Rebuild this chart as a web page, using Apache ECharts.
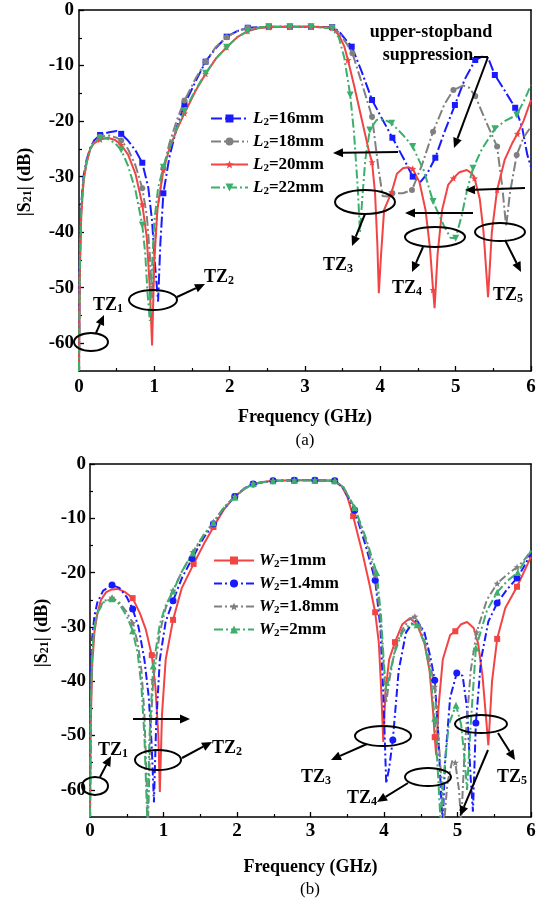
<!DOCTYPE html>
<html><head><meta charset="utf-8">
<script src="https://cdn.jsdelivr.net/npm/echarts@6/dist/echarts.min.js"></script>
<style>html,body{margin:0;padding:0;background:#fff}#c{width:546px;height:903px}</style>
</head><body><div id="c"></div>
<script>
const FONT = '"Liberation Serif","Times New Roman",serif';
const yTicks = [0,-10,-20,-30,-40,-50,-60];
const yMinorTicks = [-5,-15,-25,-35,-45,-55];
const namesA = ['L2=16mm','L2=18mm','L2=20mm','L2=22mm'];
const namesB = ['W2=1mm','W2=1.4mm','W2=1.8mm','W2=2mm'];

// ---- (a) curves and marker points ----
const L16 = [[0,-65],[0.01,-45],[0.03,-35],[0.06,-30],[0.1,-27],[0.15,-24.8],[0.2,-23.5],[0.4,-22],[0.5,-21.8],[0.65,-23.5],[0.75,-25.3],[0.92,-32],[0.97,-38],[1.01,-46],[1.05,-52.5],[1.08,-42],[1.2,-26.5],[1.3,-21],[1.55,-12.8],[1.82,-6.8],[2.1,-3.8],[3.45,-3.8],[3.55,-5.5],[3.75,-11],[4.0,-19],[4.3,-26.5],[4.53,-31],[4.62,-29.5],[4.85,-22],[5.12,-12.5],[5.35,-8.4],[5.43,-8.6],[5.65,-14.5],[5.88,-21],[5.95,-26],[6,-28.3]];
const L16m = [[0.28,-22.5],[0.56,-22.3],[0.84,-27.5],[1.12,-33],[1.4,-17],[1.68,-9.3],[1.96,-4.8],[2.24,-3.2],[2.52,-3],[2.8,-3],[3.08,-3],[3.36,-3.1],[3.62,-6.6],[3.89,-16.2],[4.16,-23],[4.43,-30],[4.73,-26.6],[4.99,-17.1],[5.26,-9],[5.52,-11.7],[5.79,-17.6]];
const L18 = [[0,-65],[0.01,-46],[0.03,-36],[0.06,-30.5],[0.1,-27.5],[0.15,-25],[0.2,-23.8],[0.4,-22.6],[0.5,-23],[0.65,-25],[0.75,-28],[0.9,-37],[0.94,-44],[0.97,-52],[1.0,-44],[1.04,-36],[1.2,-24],[1.3,-19.8],[1.55,-12.3],[1.82,-6.6],[2.1,-3.8],[3.45,-4],[3.55,-6],[3.75,-13],[3.97,-28],[4.03,-33.5],[4.1,-33.6],[4.3,-33],[4.55,-28],[4.85,-17],[5.1,-13.6],[5.18,-14],[5.4,-20],[5.62,-32],[5.67,-39],[5.72,-33],[5.9,-23],[6,-21]];
const L18m = [[0.28,-22.8],[0.56,-23.5],[0.84,-32.1],[1.12,-28.5],[1.4,-16.3],[1.68,-9.3],[1.96,-4.9],[2.24,-3.2],[2.52,-3],[2.8,-3],[3.08,-3],[3.36,-3.1],[3.63,-7.8],[3.89,-19.2],[4.16,-33],[4.42,-32.4],[4.7,-21.9],[4.97,-14.4],[5.26,-15.5],[5.55,-24.6],[5.81,-26.1]];
const L20 = [[0,-65],[0.01,-48],[0.03,-37],[0.06,-31],[0.1,-27.5],[0.15,-25],[0.2,-24],[0.38,-23],[0.48,-23.4],[0.65,-26],[0.75,-29.5],[0.9,-41],[0.94,-50],[0.97,-60.4],[1.0,-45],[1.04,-36],[1.2,-25],[1.3,-21.5],[1.55,-14.5],[1.82,-8.7],[2.1,-4.9],[2.38,-3.3],[3.45,-4.5],[3.52,-6.5],[3.65,-13.5],[3.75,-19.5],[3.85,-25.5],[3.93,-33],[3.96,-42],[3.98,-51],[4.01,-44],[4.05,-36],[4.22,-29.5],[4.3,-28.5],[4.37,-28.3],[4.52,-31],[4.6,-36],[4.66,-43],[4.72,-53.7],[4.76,-44],[4.82,-36],[4.9,-31.5],[5.05,-29.2],[5.15,-28.8],[5.22,-29.5],[5.32,-34],[5.37,-40],[5.43,-51.7],[5.48,-40],[5.65,-27],[5.75,-24],[5.9,-20],[6,-16.2]];
const L20m = [[0.28,-23.3],[0.56,-24.3],[0.84,-35],[1.12,-28.8],[1.4,-18.6],[1.68,-11.5],[1.96,-6.7],[2.24,-3.8],[2.52,-3.1],[2.8,-3],[3.08,-3],[3.36,-3.2],[3.57,-9],[3.89,-27.4],[4.15,-32.8],[4.43,-28.6],[4.7,-50.4],[4.97,-30.3],[5.25,-30.3],[5.55,-32.4],[5.82,-22.3]];
const L22 = [[0,-65],[0.01,-47],[0.03,-36],[0.06,-30.5],[0.1,-27.5],[0.15,-25],[0.2,-23.8],[0.38,-23.2],[0.48,-24],[0.65,-28],[0.75,-32.5],[0.88,-44],[0.91,-51],[0.94,-56],[0.97,-46],[1.0,-38],[1.05,-32],[1.2,-24.8],[1.3,-21.2],[1.55,-14.3],[1.82,-8.7],[2.1,-4.9],[2.38,-3.2],[3.45,-5],[3.52,-8.5],[3.65,-22],[3.7,-32],[3.73,-40],[3.76,-34],[3.8,-27],[3.95,-19.8],[4.05,-19.7],[4.3,-22.5],[4.58,-29],[4.85,-39],[4.93,-41],[5.08,-37],[5.15,-32.5],[5.35,-25],[5.65,-20],[5.92,-16],[6,-13.5]];
const L22m = [[0.28,-23.1],[0.56,-25.2],[0.84,-38.7],[1.12,-28.3],[1.4,-18.2],[1.68,-11.4],[1.96,-6.7],[2.24,-3.8],[2.52,-3],[2.8,-3],[3.08,-3],[3.36,-3.3],[3.6,-15.3],[3.86,-21.6],[4.15,-20.4],[4.43,-24.6],[4.7,-34.5],[5.0,-41.1],[5.23,-28.5],[5.52,-21.4],[5.81,-18.9]];

// ---- (b) curves and marker points ----
const W10 = [[0,-65],[0.01,-48],[0.03,-37],[0.06,-31],[0.1,-27.5],[0.15,-25],[0.22,-23.6],[0.3,-23.1],[0.38,-23],[0.48,-23.6],[0.68,-27.5],[0.76,-30.5],[0.89,-41],[0.93,-50],[0.95,-60.4],[0.98,-46],[1.03,-36],[1.25,-22.8],[1.55,-14.7],[1.82,-8.4],[2.1,-4.6],[2.35,-3.3],[3.42,-4],[3.5,-6],[3.7,-16],[3.8,-22],[3.93,-33],[3.96,-41],[3.99,-51.2],[4.02,-42],[4.07,-36],[4.25,-29.5],[4.35,-28.4],[4.45,-29.5],[4.55,-33],[4.62,-38],[4.67,-46],[4.71,-53.6],[4.74,-45],[4.8,-36],[4.9,-31.5],[5.05,-29.5],[5.13,-29.1],[5.22,-30.2],[5.28,-33],[5.34,-39],[5.42,-51.8],[5.47,-40],[5.65,-26.5],[5.9,-20],[6,-17.1]];
const W10m = [[0.58,-24.7],[0.84,-35.2],[1.13,-28.7],[1.41,-18.4],[1.68,-11.6],[1.97,-6],[2.22,-3.7],[2.49,-3.1],[2.78,-3],[3.06,-3],[3.33,-3.1],[3.58,-9.6],[3.88,-27.3],[4.15,-32.8],[4.69,-50.3],[4.97,-30.8],[5.54,-32.2],[5.81,-22.6]];
const W14 = [[0,-65],[0.01,-40],[0.03,-32],[0.06,-28],[0.1,-25.5],[0.18,-23.3],[0.4,-22.8],[0.5,-24.5],[0.66,-30],[0.74,-36],[0.8,-43],[0.84,-52],[0.87,-62.3],[0.9,-48],[0.95,-36],[1.03,-29],[1.25,-21],[1.55,-13.5],[1.82,-8.2],[2.1,-4.5],[3.45,-4.5],[3.75,-15],[3.95,-30],[3.99,-42],[4.03,-58.8],[4.07,-56],[4.2,-38],[4.3,-31],[4.4,-29],[4.45,-28.8],[4.55,-31],[4.63,-35.5],[4.74,-50],[4.78,-62],[4.8,-66],[4.83,-55],[4.9,-43],[5.07,-39],[5.13,-45],[5.18,-58],[5.21,-64],[5.32,-36],[5.42,-29],[5.68,-23],[5.9,-19],[6,-16.4]];
const W14m = [[0.3,-22.3],[0.58,-26.7],[1.13,-25.2],[1.39,-17.4],[1.68,-11],[1.97,-6],[2.22,-3.7],[2.49,-3.1],[2.78,-3],[3.06,-3],[3.33,-3.1],[3.6,-8.5],[3.88,-21.4],[4.12,-50.8],[4.69,-39.8],[4.99,-38.5],[5.25,-47.7],[5.54,-25.6],[5.81,-21]];
const W18 = [[0,-65],[0.01,-45],[0.03,-35],[0.06,-30],[0.1,-27.5],[0.18,-25.3],[0.4,-25.5],[0.5,-27.3],[0.65,-33],[0.7,-38],[0.74,-46],[0.77,-58],[0.79,-66],[0.82,-50],[0.95,-31],[1.03,-26.5],[1.25,-19.8],[1.55,-13],[1.82,-8],[2.1,-4.5],[3.45,-4.3],[3.75,-14],[3.95,-28],[4.0,-38],[4.03,-44],[4.07,-40],[4.15,-34],[4.25,-30.5],[4.35,-28.5],[4.5,-30],[4.6,-35],[4.75,-52],[4.8,-62],[4.82,-66],[4.86,-59],[4.93,-54.5],[5.02,-60],[5.05,-66],[5.1,-52],[5.18,-38],[5.4,-25],[5.68,-20.3],[5.9,-17.8],[6,-16]];
const W18m = [[0.3,-24.6],[0.58,-29.3],[0.86,-39.8],[1.13,-23.3],[1.4,-16.2],[1.68,-10.7],[1.97,-6],[2.22,-3.6],[2.49,-3.1],[2.78,-3],[3.06,-3],[3.33,-3.1],[3.6,-8.2],[3.88,-20.5],[4.42,-28.1],[4.69,-41],[4.97,-55],[5.26,-31],[5.54,-22],[5.81,-19]];
const W20 = [[0,-65],[0.01,-45],[0.03,-35],[0.06,-30],[0.1,-27.5],[0.18,-25.5],[0.4,-25.8],[0.5,-28],[0.65,-35],[0.7,-41],[0.74,-50],[0.77,-62],[0.78,-66],[0.81,-50],[0.95,-29.5],[1.03,-26],[1.25,-19.8],[1.55,-13],[1.82,-8.1],[2.1,-4.6],[3.45,-4.3],[3.75,-13.5],[3.96,-28],[4.0,-37],[4.03,-42],[4.07,-39],[4.15,-34.5],[4.25,-31],[4.35,-29.5],[4.55,-33],[4.63,-38.5],[4.73,-56],[4.77,-66],[4.81,-58],[4.88,-48],[5.05,-48],[5.1,-55],[5.13,-60],[5.17,-50],[5.4,-27],[5.68,-21.5],[5.9,-18.2],[6,-16]];
const W20m = [[0.3,-24.8],[0.58,-30.7],[0.86,-37.2],[1.13,-23.4],[1.4,-16.4],[1.68,-10.8],[1.97,-6.1],[2.22,-3.6],[2.49,-3.1],[2.78,-3],[3.06,-3],[3.33,-3.1],[3.6,-8],[3.9,-20],[4.45,-29.6],[4.69,-46.8],[4.98,-44.4],[5.25,-33.9],[5.54,-23.6],[5.82,-20]];

const BLUE='#1a1aff', GRAY='#808080', RED='#f24444', GREEN='#3caf6c';
const STAR='path://M0,-10L2.6,-3.6L9.5,-3.1L4.2,1.4L5.9,8.1L0,4.4L-5.9,8.1L-4.2,1.4L-9.5,-3.1L-2.6,-3.6Z';

function merge(curve, marks){
  const pts = curve.map(p=>({value:p, symbol:'none'})).concat(marks.map(p=>({value:p})));
  pts.sort((a,b)=>a.value[0]-b.value[0]);
  return pts;
}
function mk(name, curve, marks, color, dash, symbol, size, g, rot){
  return {name, type:'line', xAxisIndex:g*2, yAxisIndex:g*3, data:merge(curve,marks),
    symbol, symbolSize:size, symbolRotate:rot||0, showAllSymbol:true, clip:true,
    lineStyle:{color, width:2, type:dash}, itemStyle:{color}, color};
}
const DD=[9,3,2,3];
const series = [
  mk(namesA[0], L16, L16m, BLUE, [11,3,2,3], 'rect', 6, 0),
  mk(namesA[1], L18, L18m, GRAY, [10,3,2,3], 'circle', 6, 0),
  mk(namesA[2], L20, L20m, RED, 'solid', STAR, 7, 0),
  mk(namesA[3], L22, L22m, GREEN, DD, 'triangle', 7, 0, 180),
  mk(namesB[0], W10, W10m, RED, 'solid', 'rect', 6, 1),
  mk(namesB[1], W14, W14m, BLUE, [8,3,2,3], 'circle', 7, 1),
  mk(namesB[2], W18, W18m, GRAY, [8,3,2,3], STAR, 7, 1),
  mk(namesB[3], W20, W20m, GREEN, DD, 'triangle', 7, 1)
];

const axisLineStyle = {color:'#000', width:1.5};
const labelStyle = {color:'#000', fontFamily:FONT, fontWeight:'bold', fontSize:19};
function xMain(g, margin, gap){
  return {type:'value', gridIndex:g, min:0, max:6, interval:1, position:'bottom',
    axisLine:{show:true, onZero:false, lineStyle:axisLineStyle},
    axisTick:{show:true, inside:true, length:5, lineStyle:{color:'#000', width:1.3}},
    minorTick:{show:true, splitNumber:2, length:3, lineStyle:{color:'#000', width:1.2}},
    splitLine:{show:false}, axisLabel:Object.assign({margin}, labelStyle),
    name:'Frequency (GHz)', nameLocation:'middle', nameGap:gap,
    nameTextStyle:{color:'#000', fontFamily:FONT, fontWeight:'bold', fontSize:18}};
}
function xTop(g){
  return {type:'value', gridIndex:g, min:0, max:6, position:'top',
    axisLine:{show:true, onZero:false, lineStyle:axisLineStyle},
    axisTick:{show:false}, axisLabel:{show:false}, splitLine:{show:false}};
}
function yMain(g, margin){
  return {type:'value', gridIndex:g, min:-65, max:0, position:'left',
    axisLine:{show:true, onZero:false, lineStyle:axisLineStyle},
    axisTick:{show:true, inside:true, length:5, customValues:yTicks, lineStyle:{color:'#000', width:1.3}},
    axisLabel:Object.assign({margin, customValues:yTicks}, labelStyle),
    splitLine:{show:false}};
}
function yMinor(g){
  return {type:'value', gridIndex:g, min:-65, max:0, position:'left',
    axisLine:{show:false, onZero:false},
    axisTick:{show:true, inside:true, length:3, customValues:yMinorTicks, lineStyle:{color:'#000', width:1.2}},
    axisLabel:{show:false, customValues:yMinorTicks}, splitLine:{show:false}};
}
function yRight(g){
  return {type:'value', gridIndex:g, min:-65, max:0, position:'right',
    axisLine:{show:true, onZero:false, lineStyle:axisLineStyle},
    axisTick:{show:false}, axisLabel:{show:false}, splitLine:{show:false}};
}

function legendFmt(name){
  const m = name.match(/^([A-Z])2(=.*)$/);
  return '{i|'+m[1]+'}{s|2}{t|'+m[2]+'}';
}
const legRich = {
  i:{fontFamily:FONT, fontWeight:'bold', fontStyle:'italic', fontSize:17, lineHeight:19, color:'#000'},
  s:{fontFamily:FONT, fontWeight:'bold', fontSize:11, lineHeight:8, verticalAlign:'bottom', color:'#000'},
  t:{fontFamily:FONT, fontWeight:'bold', fontSize:17, lineHeight:19, color:'#000'}
};
function legend(names, left, top, w){
  return {orient:'vertical', left, top, itemWidth:w, itemHeight:10, itemGap:5, data:names,
    formatter:legendFmt, selectedMode:false,
    textStyle:{fontFamily:FONT, fontWeight:'bold', fontSize:17, color:'#000', rich:legRich}};
}

// ---- annotations (pixel positions) ----
const ellipseList = [[91,342,17,9],[153,300,24,10],[365,202,30,12],[435,237,30,10],[500,232,25,9],
  [95,786,13,9],[158,760,23,10],[383,736,28,10],[428,777,23,9],[481,724,26,9]];
const arrowList = [[96,333,104,315],[177,297,205,284],[365,214,352,246],[423,247,412,272],[505,240,521,272],
  [398,152,333,153],[473,213,405,213],[525,188,465,190],[488,57,454,148],
  [100,777,111,756],[182,758,212,742],[367,744,331,760],[408,783,377,802],[498,733,515,760],[488,750,460,816],
  [133,719,190,719]];
const plainLines = [[488,57,474,57]];
const tzList = [['1',108,305],['2',219,277],['3',338,265],['4',407,288],['5',508,295],
  ['1',113,750],['2',227,748],['3',316,777],['4',362,798],['5',512,777]];

const graphic = [];
ellipseList.forEach(e=>graphic.push({type:'ellipse', shape:{cx:e[0],cy:e[1],rx:e[2],ry:e[3]}, style:{fill:'none', stroke:'#000', lineWidth:2}, z:100}));
function arrow(a){
  const [x1,y1,x2,y2]=a; const dx=x2-x1, dy=y2-y1; const L=Math.hypot(dx,dy); const ux=dx/L, uy=dy/L;
  const hl=10, hw=4.5; const bx=x2-ux*hl, by=y2-uy*hl;
  graphic.push({type:'line', shape:{x1,y1,x2:bx,y2:by}, style:{stroke:'#000', lineWidth:2}, z:100});
  graphic.push({type:'polygon', shape:{points:[[x2,y2],[bx-uy*hw,by+ux*hw],[bx+uy*hw,by-ux*hw]]}, style:{fill:'#000'}, z:100});
}
arrowList.forEach(arrow);
plainLines.forEach(l=>graphic.push({type:'line', shape:{x1:l[0],y1:l[1],x2:l[2],y2:l[3]}, style:{stroke:'#000', lineWidth:2}, z:100}));
const tzRich = {
  b:{fontFamily:FONT, fontWeight:'bold', fontSize:18, lineHeight:20, fill:'#000', color:'#000'},
  s:{fontFamily:FONT, fontWeight:'bold', fontSize:12, lineHeight:9, verticalAlign:'bottom', fill:'#000', color:'#000'}
};
function txt(text, x, y, extra){
  return Object.assign({type:'text', x, y, z:101, style:{text, fill:'#000', font:'bold 18px '+FONT,
    align:'center', verticalAlign:'middle', textAlign:'center', textVerticalAlign:'middle', rich:tzRich}}, extra||{});
}
tzList.forEach(t=>graphic.push(txt('{b|TZ}{s|'+t[0]+'}', t[1], t[2])));
graphic.push(txt('upper-stopband', 431, 32));
graphic.push(txt('suppression', 428, 55));
graphic.push(txt('|S{s|21}| (dB)', 25, 182, {rotation:Math.PI/2}));
graphic.push(txt('|S{s|21}| (dB)', 42, 633, {rotation:Math.PI/2}));
graphic.push({type:'text', x:305, y:441, z:101, style:{text:'(a)', fill:'#000', font:'17px '+FONT, align:'center', verticalAlign:'middle', textAlign:'center', textVerticalAlign:'middle'}});
graphic.push({type:'text', x:310, y:890, z:101, style:{text:'(b)', fill:'#000', font:'17px '+FONT, align:'center', verticalAlign:'middle', textAlign:'center', textVerticalAlign:'middle'}});

const chart = echarts.init(document.getElementById('c'), null, {renderer:'canvas'});
chart.setOption({
  animation:false,
  backgroundColor:'#fff',
  grid:[{left:79, top:10, width:452, height:361}, {left:90, top:464, width:441, height:353}],
  xAxis:[xMain(0,7,37), xTop(0), xMain(1,5,41), xTop(1)],
  yAxis:[yMain(0,5), yMinor(0), yRight(0), yMain(1,4), yMinor(1), yRight(1)],
  legend:[legend(namesA,205,105,37), legend(namesB,208,547,40)],
  series,
  graphic
});
</script></body></html>
